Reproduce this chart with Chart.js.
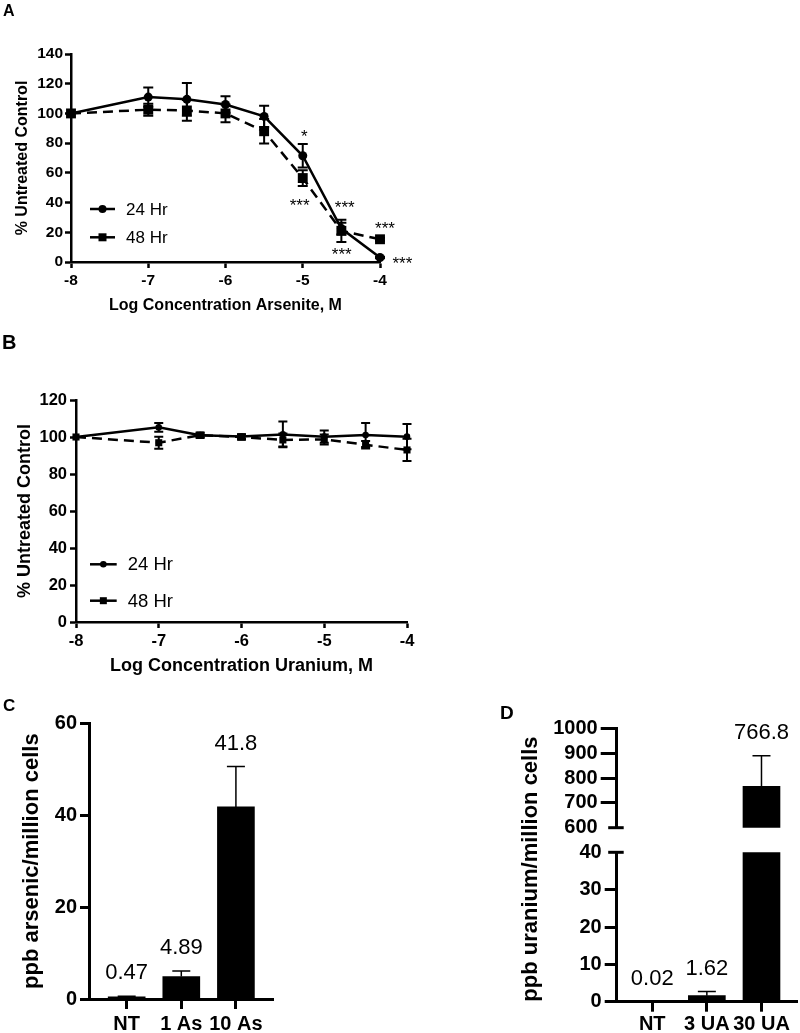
<!DOCTYPE html>
<html><head><meta charset="utf-8">
<script src="https://cdn.jsdelivr.net/npm/chart.js@4/dist/chart.umd.min.js"></script>
<style>
html,body{margin:0;padding:0;background:#fff;}
body{width:800px;height:1033px;position:relative;overflow:hidden;font-family:"Liberation Sans",Arial,sans-serif;}
canvas{position:absolute;}
.lbl{position:absolute;font-weight:bold;line-height:1;color:#000;z-index:5;}
</style></head><body>
<canvas id="cA" width="420" height="330" style="left:0;top:0"></canvas>
<canvas id="cB" width="430" height="350" style="left:0;top:330px"></canvas>
<canvas id="cC" width="300" height="353" style="left:0;top:680px"></canvas>
<canvas id="cDlo" width="300" height="343" style="left:500px;top:690px"></canvas>
<canvas id="cDup" width="300" height="154" style="left:500px;top:690px"></canvas>
<div class="lbl" style="left:3px;top:3px;font-size:16px">A</div>
<div class="lbl" style="left:2px;top:332px;font-size:20px">B</div>
<div class="lbl" style="left:3px;top:697px;font-size:17px">C</div>
<div class="lbl" style="left:500px;top:703px;font-size:19px">D</div>
<script>
// ---------- data ----------
const doseLog = [-8, -7, -6.5, -6, -5.5, -5, -4.5, -4];
const arsenite24 = [100, 111, 109.5, 106, 98, 71.5, 22.5, 3];
const arsenite24Err = [0, 6.5, 11, 5.6, 7.2, 7.9, 4, 0.5];
const arsenite48 = [100, 102.5, 102, 100, 88, 56.5, 21, 15.3];
const arsenite48Err = [0, 4, 7, 6, 8.3, 5.3, 7.5, 1];
const uranium24 = [100, 105.2, 101, 100.3, 101.4, 100.2, 101.1, 100.2];
const uranium24Err = [0, 2.4, 1.5, 1, 7, 3.3, 6.5, 6.8];
const uranium48 = [100, 96.9, 101, 100, 98.4, 98.7, 95.8, 93];
const uranium48Err = [0, 3.3, 1, 1.5, 3.5, 2.7, 2, 6];
const seriesLabels = ['24 Hr', '48 Hr'];
const starX = [-4.98, -5.04, -4.457, -4.496, -3.935, -3.71];
const starY = [87.7, 41, 39.5, 8, 25.4, 1.8];
const starText = ['*', '***', '***', '***', '***', '***'];
const arsenicGroups = ['NT', '1 As', '10 As'];
const arsenicPpb = [0.47, 4.89, 41.8];
const arsenicErr = [0.15, 1.2, 8.8];
const uraniumGroups = ['NT', '3 UA', '30 UA'];
const uraniumPpb = [0.02, 1.62, 766.8];
const uraniumErr = [0.01, 1.1, 123];

// ---------- helpers ----------
const BLACK = '#000';
const FAM = '"Liberation Sans", Arial, Helvetica, sans-serif';
Chart.defaults.font.family = FAM;
Chart.defaults.color = BLACK;
Chart.defaults.animation = false;

const pts = (xs, ys) => xs.map((x, i) => ({x: x, y: ys[i]}));

function axis(o) {
  const s = {
    type: 'linear', min: o.min, max: o.max, display: o.display !== false, offset: false,
    ticks: {stepSize: o.step, font: {size: o.tickSize, weight: 'bold'}, padding: o.tickPad, color: BLACK,
            autoSkip: false, maxRotation: 0, callback: v => String(v)},
    grid: {offset: false, drawOnChartArea: false, tickLength: o.tl, tickWidth: o.lw, tickColor: o.tickColor || BLACK},
    border: {color: BLACK, width: o.lw},
    title: o.title ? {display: true, text: o.title, color: BLACK, align: o.titleAlign || 'center',
      font: {size: o.titleSize, weight: 'bold'}, padding: o.titlePad} : {display: false}
  };
  if (o.width !== undefined) s.afterFit = sc => { sc.width = o.width; };
  if (o.height !== undefined) s.afterFit = sc => { sc.height = o.height; };
  if (o.labels) {
    s.afterBuildTicks = sc => { sc.ticks = o.labels.map((g, i) => ({value: i})); };
    s.ticks.callback = v => o.labels[v];
  }
  return s;
}

const errorBarPlugin = {
  id: 'errbars',
  beforeDatasetsDraw(chart) {
    const ctx = chart.ctx, xs = chart.scales.x, ys = chart.scales.y;
    chart.data.datasets.forEach(ds => {
      if (!ds.errors) return;
      ctx.save();
      ctx.strokeStyle = BLACK; ctx.lineWidth = ds.errWidth; ctx.setLineDash([]);
      ds.data.forEach((p, i) => {
        const e = ds.errors[i];
        if (!e || p.y < ys.min || p.y > ys.max) return;
        const px = xs.getPixelForValue(p.x);
        const yt = ys.getPixelForValue(p.y + e);
        const yb = ys.getPixelForValue(ds.errUpOnly ? p.y : p.y - e);
        const h = ds.capHalf;
        ctx.beginPath();
        ctx.moveTo(px, yt); ctx.lineTo(px, yb);
        ctx.moveTo(px - h, yt); ctx.lineTo(px + h, yt);
        if (!ds.errUpOnly) { ctx.moveTo(px - h, yb); ctx.lineTo(px + h, yb); }
        ctx.stroke();
      });
      ctx.restore();
    });
  }
};

const keyPlugin = {
  id: 'key',
  afterDraw(chart, args, o) {
    if (!o || !o.rows) return;
    const ctx = chart.ctx;
    ctx.save();
    chart.data.datasets.forEach((ds, i) => {
      const y = o.rows[i];
      ctx.strokeStyle = BLACK; ctx.fillStyle = BLACK; ctx.lineWidth = o.lineWidth; ctx.setLineDash([]);
      ctx.beginPath(); ctx.moveTo(o.x0, y); ctx.lineTo(o.x1, y); ctx.stroke();
      const cx = (o.x0 + o.x1) / 2, r = o.radius[i];
      ctx.beginPath();
      if (ds.pointStyle === 'rect') ctx.rect(cx - r, y - r, 2 * r, 2 * r);
      else ctx.arc(cx, y, r, 0, Math.PI * 2);
      ctx.fill();
      ctx.font = o.size + 'px ' + FAM;
      ctx.textAlign = 'left'; ctx.textBaseline = 'middle';
      ctx.fillText(ds.label, o.tx, y + 1);
    });
    ctx.restore();
  }
};

const starPlugin = {
  id: 'stars',
  afterDraw(chart, args, o) {
    if (!o || !o.text) return;
    const ctx = chart.ctx, xs = chart.scales.x, ys = chart.scales.y;
    ctx.save();
    ctx.fillStyle = BLACK; ctx.font = o.size + 'px ' + FAM;
    ctx.textAlign = 'center'; ctx.textBaseline = 'alphabetic';
    o.text.forEach((t, i) => {
      ctx.fillText(t, xs.getPixelForValue(o.x[i]), ys.getPixelForValue(o.y[i]) + o.size * 0.585);
    });
    ctx.restore();
  }
};

const valuePlugin = {
  id: 'vals',
  afterDatasetsDraw(chart, args, o) {
    if (!o || !o.size) return;
    const ctx = chart.ctx, xs = chart.scales.x, ys = chart.scales.y;
    const ds = chart.data.datasets[0];
    ctx.save();
    ctx.fillStyle = BLACK; ctx.font = o.size + 'px ' + FAM;
    ctx.textAlign = 'center'; ctx.textBaseline = 'middle';
    ds.data.forEach((p, i) => {
      if (p.y < ys.min || p.y > ys.max) return;
      ctx.fillText(String(p.y), xs.getPixelForValue(p.x), ys.getPixelForValue(p.y + (ds.errors[i] || 0)) - o.gap);
    });
    ctx.restore();
  }
};

const breakPlugin = {
  id: 'brk',
  afterDraw(chart, args, o) {
    if (!o || o.value === undefined) return;
    const ctx = chart.ctx, ys = chart.scales.y, x = chart.chartArea.left;
    const y = ys.getPixelForValue(o.value);
    ctx.save();
    ctx.strokeStyle = BLACK; ctx.lineWidth = 3;
    ctx.beginPath(); ctx.moveTo(x - 8.5, y); ctx.lineTo(x + 7, y); ctx.stroke();
    ctx.restore();
  }
};

function lineSets(s24, e24, s48, e48, r24, r48, lw, cap) {
  return [
    {label: seriesLabels[0], data: pts(doseLog, s24), errors: e24, capHalf: cap, errWidth: 2,
     borderColor: BLACK, backgroundColor: BLACK, borderWidth: lw, pointStyle: 'circle',
     pointRadius: r24, pointBorderWidth: 0, pointBackgroundColor: BLACK, clip: false, tension: 0},
    {label: seriesLabels[1], data: pts(doseLog, s48), errors: e48, capHalf: cap, errWidth: 2,
     borderColor: BLACK, backgroundColor: BLACK, borderWidth: lw, borderDash: [10, 6], pointStyle: 'rect',
     pointRadius: r48, pointBorderWidth: 0, pointBackgroundColor: BLACK, clip: false, tension: 0}
  ];
}

// ---------- Panel A ----------
new Chart(document.getElementById('cA'), {
  type: 'line',
  data: {datasets: lineSets(arsenite24, arsenite24Err, arsenite48, arsenite48Err, 4.5, 7, 2.5, 5)},
  options: {
    responsive: false, animation: false, events: [],
    layout: {padding: {left: 0, top: 54, right: 40, bottom: 0}},
    plugins: {
      legend: {display: false}, tooltip: {enabled: false},
      key: {x0: 90, x1: 115, tx: 126, rows: [209, 237.3], size: 17, lineWidth: 2.5, radius: [4, 4]},
      stars: {x: starX, y: starY, text: starText, size: 17}
    },
    scales: {
      x: axis({min: -8, max: -4, step: 1, tickSize: 15.5, tickPad: 3, tl: 6, lw: 2.5, height: 68,
               title: 'Log Concentration Arsenite, M', titleSize: 16, titlePad: {top: 0, bottom: 15}}),
      y: axis({min: 0, max: 140, step: 20, tickSize: 15.5, tickPad: 2, tl: 6, lw: 2.5, width: 71,
               title: '% Untreated Control', titleSize: 16, titlePad: {top: 13, bottom: 0}})
    }
  },
  plugins: [errorBarPlugin, keyPlugin, starPlugin]
});

// ---------- Panel B ----------
new Chart(document.getElementById('cB'), {
  type: 'line',
  data: {datasets: lineSets(uranium24, uranium24Err, uranium48, uranium48Err, 3.3, 5, 2.5, 4.5)},
  options: {
    responsive: false, animation: false, events: [],
    layout: {padding: {left: 0, top: 70, right: 23, bottom: 0}},
    plugins: {
      legend: {display: false}, tooltip: {enabled: false},
      key: {x0: 90, x1: 116.7, tx: 127.7, rows: [234.3, 270.7], size: 18.5, lineWidth: 2.5, radius: [3.3, 3.5]}
    },
    scales: {
      x: axis({min: -8, max: -4, step: 1, tickSize: 16.5, tickPad: 4, tl: 6, lw: 2.5, height: 58,
               title: 'Log Concentration Uranium, M', titleSize: 18, titlePad: {top: 0, bottom: 3}}),
      y: axis({min: 0, max: 120, step: 20, tickSize: 16.5, tickPad: 3, tl: 6, lw: 2.5, width: 76,
               title: '% Untreated Control', titleSize: 18, titlePad: {top: 14, bottom: 0}})
    }
  },
  plugins: [errorBarPlugin, keyPlugin]
});

// ---------- Panel C ----------
function barSet(groups, vals, errs) {
  return [{data: groups.map((g, i) => ({x: i, y: vals[i]})), errors: errs, errUpOnly: true, capHalf: 9, errWidth: 1.5,
           backgroundColor: BLACK, borderWidth: 0, barThickness: 37, clip: 0}];
}
new Chart(document.getElementById('cC'), {
  type: 'bar',
  data: {datasets: barSet(arsenicGroups, arsenicPpb, arsenicErr)},
  options: {
    responsive: false, animation: false, events: [],
    layout: {padding: {left: 0, top: 43.3, right: 26.4, bottom: 0}},
    plugins: {legend: {display: false}, tooltip: {enabled: false}, vals: {size: 22, gap: 23}},
    scales: {
      x: axis({min: -0.69, max: 2.69, tickSize: 20, tickPad: 3, tl: 10, lw: 3, height: 34, labels: arsenicGroups}),
      y: axis({min: 0, max: 60, step: 20, tickSize: 20, tickPad: 3, tl: 9, lw: 3, width: 89,
               title: 'ppb arsenic/million cells', titleSize: 22, titlePad: {top: 18.8, bottom: 0}})
    }
  },
  plugins: [errorBarPlugin, valuePlugin]
});

// ---------- Panel D (broken axis: lower 0-40, upper 600-1000) ----------
new Chart(document.getElementById('cDlo'), {
  type: 'bar',
  data: {datasets: barSet(uraniumGroups, uraniumPpb, uraniumErr)},
  options: {
    responsive: false, animation: false, events: [],
    layout: {padding: {left: 0, top: 162.3, right: 3, bottom: 0}},
    plugins: {legend: {display: false}, tooltip: {enabled: false}, vals: {size: 22, gap: 23}, brk: {value: 40}},
    scales: {
      x: axis({min: -0.65, max: 2.65, tickSize: 20, tickPad: 1, tl: 10, lw: 3, height: 31.3, labels: uraniumGroups}),
      y: axis({min: 0, max: 40, step: 10, tickSize: 20, tickPad: 3, tl: 12, lw: 3, width: 116.7,
               tickColor: c => (c.tick && c.tick.value === 40) ? 'rgba(0,0,0,0)' : BLACK,
               title: 'ppb uranium/million cells', titleSize: 22, titleAlign: 'start', titlePad: {top: 17.8, bottom: 0}})
    }
  },
  plugins: [errorBarPlugin, valuePlugin, breakPlugin]
});

new Chart(document.getElementById('cDup'), {
  type: 'bar',
  data: {datasets: barSet(uraniumGroups, uraniumPpb, uraniumErr)},
  options: {
    responsive: false, animation: false, events: [],
    layout: {padding: {left: 0, top: 38.3, right: 3, bottom: 16.3}},
    plugins: {legend: {display: false}, tooltip: {enabled: false}, vals: {size: 22, gap: 23}, brk: {value: 600}},
    scales: {
      x: axis({min: -0.65, max: 2.65, tickSize: 20, tickPad: 0, tl: 10, lw: 3, display: false, labels: uraniumGroups}),
      y: axis({min: 600, max: 1000, step: 100, tickSize: 20, tickPad: 3, tl: 16, lw: 3, width: 116.7,
               tickColor: c => (c.tick && c.tick.value === 600) ? 'rgba(0,0,0,0)' : BLACK})
    }
  },
  plugins: [errorBarPlugin, valuePlugin, breakPlugin]
});
</script>
</body></html>
